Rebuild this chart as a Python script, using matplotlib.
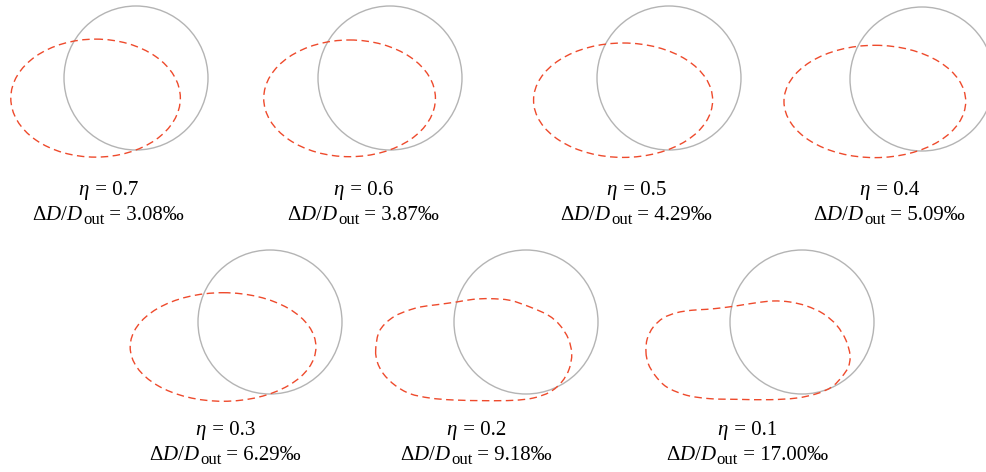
import numpy as np
import matplotlib
matplotlib.use("Agg")
import matplotlib.pyplot as plt
from matplotlib.path import Path
from matplotlib.patches import PathPatch, Circle, Ellipse

plt.rcParams['font.family'] = ['Liberation Serif', 'DejaVu Serif']
plt.rcParams['mathtext.fontset'] = 'custom'
plt.rcParams['mathtext.rm'] = 'Liberation Serif'
plt.rcParams['mathtext.it'] = 'Liberation Serif:italic'
plt.rcParams['lines.scale_dashes'] = False

# cover-to-thickness ratio and the resulting diameter change per mille
eta = [0.7, 0.6, 0.5, 0.4, 0.3, 0.2, 0.1]
dd = ["3.08", "3.87", "4.29", "5.09", "6.29", "9.18", "17.00"]

# elliptical deformed sections (eta 0.7 .. 0.3), extents in units of the
# original radius, circle centred at 0,0
ell_left = [-1.739, -1.754, -1.881, -1.917, -1.942]
ell_right = [0.616, 0.631, 0.606, 0.607, 0.638]
ell_top = [0.540, 0.528, 0.486, 0.468, 0.407]
ell_bottom = [-1.099, -1.093, -1.103, -1.092, -1.101]

# non-elliptical sections for eta 0.2 and 0.1 (outline points, same units)
shape_02 = [(-2.088, -0.393), (-2.065, -0.556), (-1.982, -0.718), (-1.819, -0.879),
            (-1.611, -0.996), (-1.333, -1.056), (-1.010, -1.083), (-0.546, -1.093),
            (-0.176, -1.088), (0.101, -1.056), (0.333, -0.972), (0.496, -0.833),
            (0.601, -0.649), (0.635, -0.440), (0.588, -0.232), (0.472, -0.046),
            (0.310, 0.093), (0.056, 0.208), (-0.222, 0.301), (-0.500, 0.324),
            (-0.732, 0.315), (-0.963, 0.278), (-1.240, 0.240), (-1.472, 0.208),
            (-1.657, 0.153), (-1.819, 0.083), (-1.958, -0.024), (-2.051, -0.163)]
shape_01 = [(-2.167, -0.417), (-2.135, -0.579), (-2.042, -0.740), (-1.879, -0.903),
            (-1.601, -1.018), (-1.278, -1.065), (-0.907, -1.074), (-0.444, -1.079),
            (-0.074, -1.056), (0.204, -0.996), (0.413, -0.903), (0.551, -0.764),
            (0.643, -0.625), (0.667, -0.463), (0.611, -0.254), (0.482, -0.046),
            (0.296, 0.115), (0.065, 0.222), (-0.167, 0.278), (-0.399, 0.292),
            (-0.629, 0.268), (-0.861, 0.232), (-1.093, 0.199), (-1.324, 0.176),
            (-1.532, 0.163), (-1.740, 0.129), (-1.926, 0.056), (-2.065, -0.069),
            (-2.149, -0.232)]
outlines = [shape_02, shape_01]

# panel layout (pixels): circle centres and label centres
centres = [(136, 78), (390, 78), (669, 78), (922, 79),
           (270, 322), (526, 322), (802, 322)]
label_x = [108, 363, 636, 889, 225, 476, 747]
label_y = [195, 195, 195, 195, 435, 435, 435]
R = 72

RED = '#ee4a2c'
GRAY = '#b4b4b4'
DASH = (0, (5.4, 3.2))
FS = 15
FS_SUB = 12


def closed_smooth_path(pts):
    # Catmull-Rom through the outline points, written as cubic Beziers
    p = np.asarray(pts, float)
    n = len(p)
    verts = [p[0]]
    codes = [Path.MOVETO]
    for i in range(n):
        p0, p1, p2, p3 = p[i - 1], p[i], p[(i + 1) % n], p[(i + 2) % n]
        verts += [p1 + (p2 - p0) / 6, p2 - (p3 - p1) / 6, p2]
        codes += [Path.CURVE4] * 3
    return Path(verts, codes)


fig = plt.figure(figsize=(9.86, 4.72), dpi=100)
ax = fig.add_axes([0, 0, 1, 1])
ax.set_xlim(0, 986)
ax.set_ylim(472, 0)
ax.set_aspect('equal')
ax.axis('off')
renderer = fig.canvas.get_renderer()


def centred_line(xc, y, parts):
    # parts: (text, fontsize, baseline drop in px); laid out left to right
    texts = []
    x = 0.0
    for s, size, drop in parts:
        t = ax.text(x, y + drop, s, ha='left', va='baseline', fontsize=size)
        w = t.get_window_extent(renderer).width
        texts.append((t, x))
        x += w
    start = xc - x / 2
    for t, x0 in texts:
        t.set_x(start + x0)


for k in range(len(eta)):
    cx, cy = centres[k]
    ax.add_patch(Circle((cx, cy), R, fill=False, ec=GRAY, lw=1.0))
    if k < len(ell_left):
        ex = cx + R * (ell_left[k] + ell_right[k]) / 2
        ey = cy - R * (ell_top[k] + ell_bottom[k]) / 2
        w = R * (ell_right[k] - ell_left[k])
        h = R * (ell_top[k] - ell_bottom[k])
        ax.add_patch(Ellipse((ex, ey), w, h, fill=False, ec=RED, lw=1.0, linestyle=DASH))
    else:
        pts = [(cx + R * x, cy - R * y) for x, y in outlines[k - len(ell_left)]]
        ax.add_patch(PathPatch(closed_smooth_path(pts), fill=False, ec=RED, lw=1.0,
                               linestyle=DASH))
    centred_line(label_x[k], label_y[k], [(r'$\eta$', FS, 0), (' = %.1f' % eta[k], FS, 0)])
    centred_line(label_x[k], label_y[k] + 25,
                 [(r'$\Delta D/D$', FS, 0), ('out', FS_SUB, 3.5),
                  (' = ' + dd[k] + '‰', FS, 0)])

fig.savefig('out.png', dpi=100)
